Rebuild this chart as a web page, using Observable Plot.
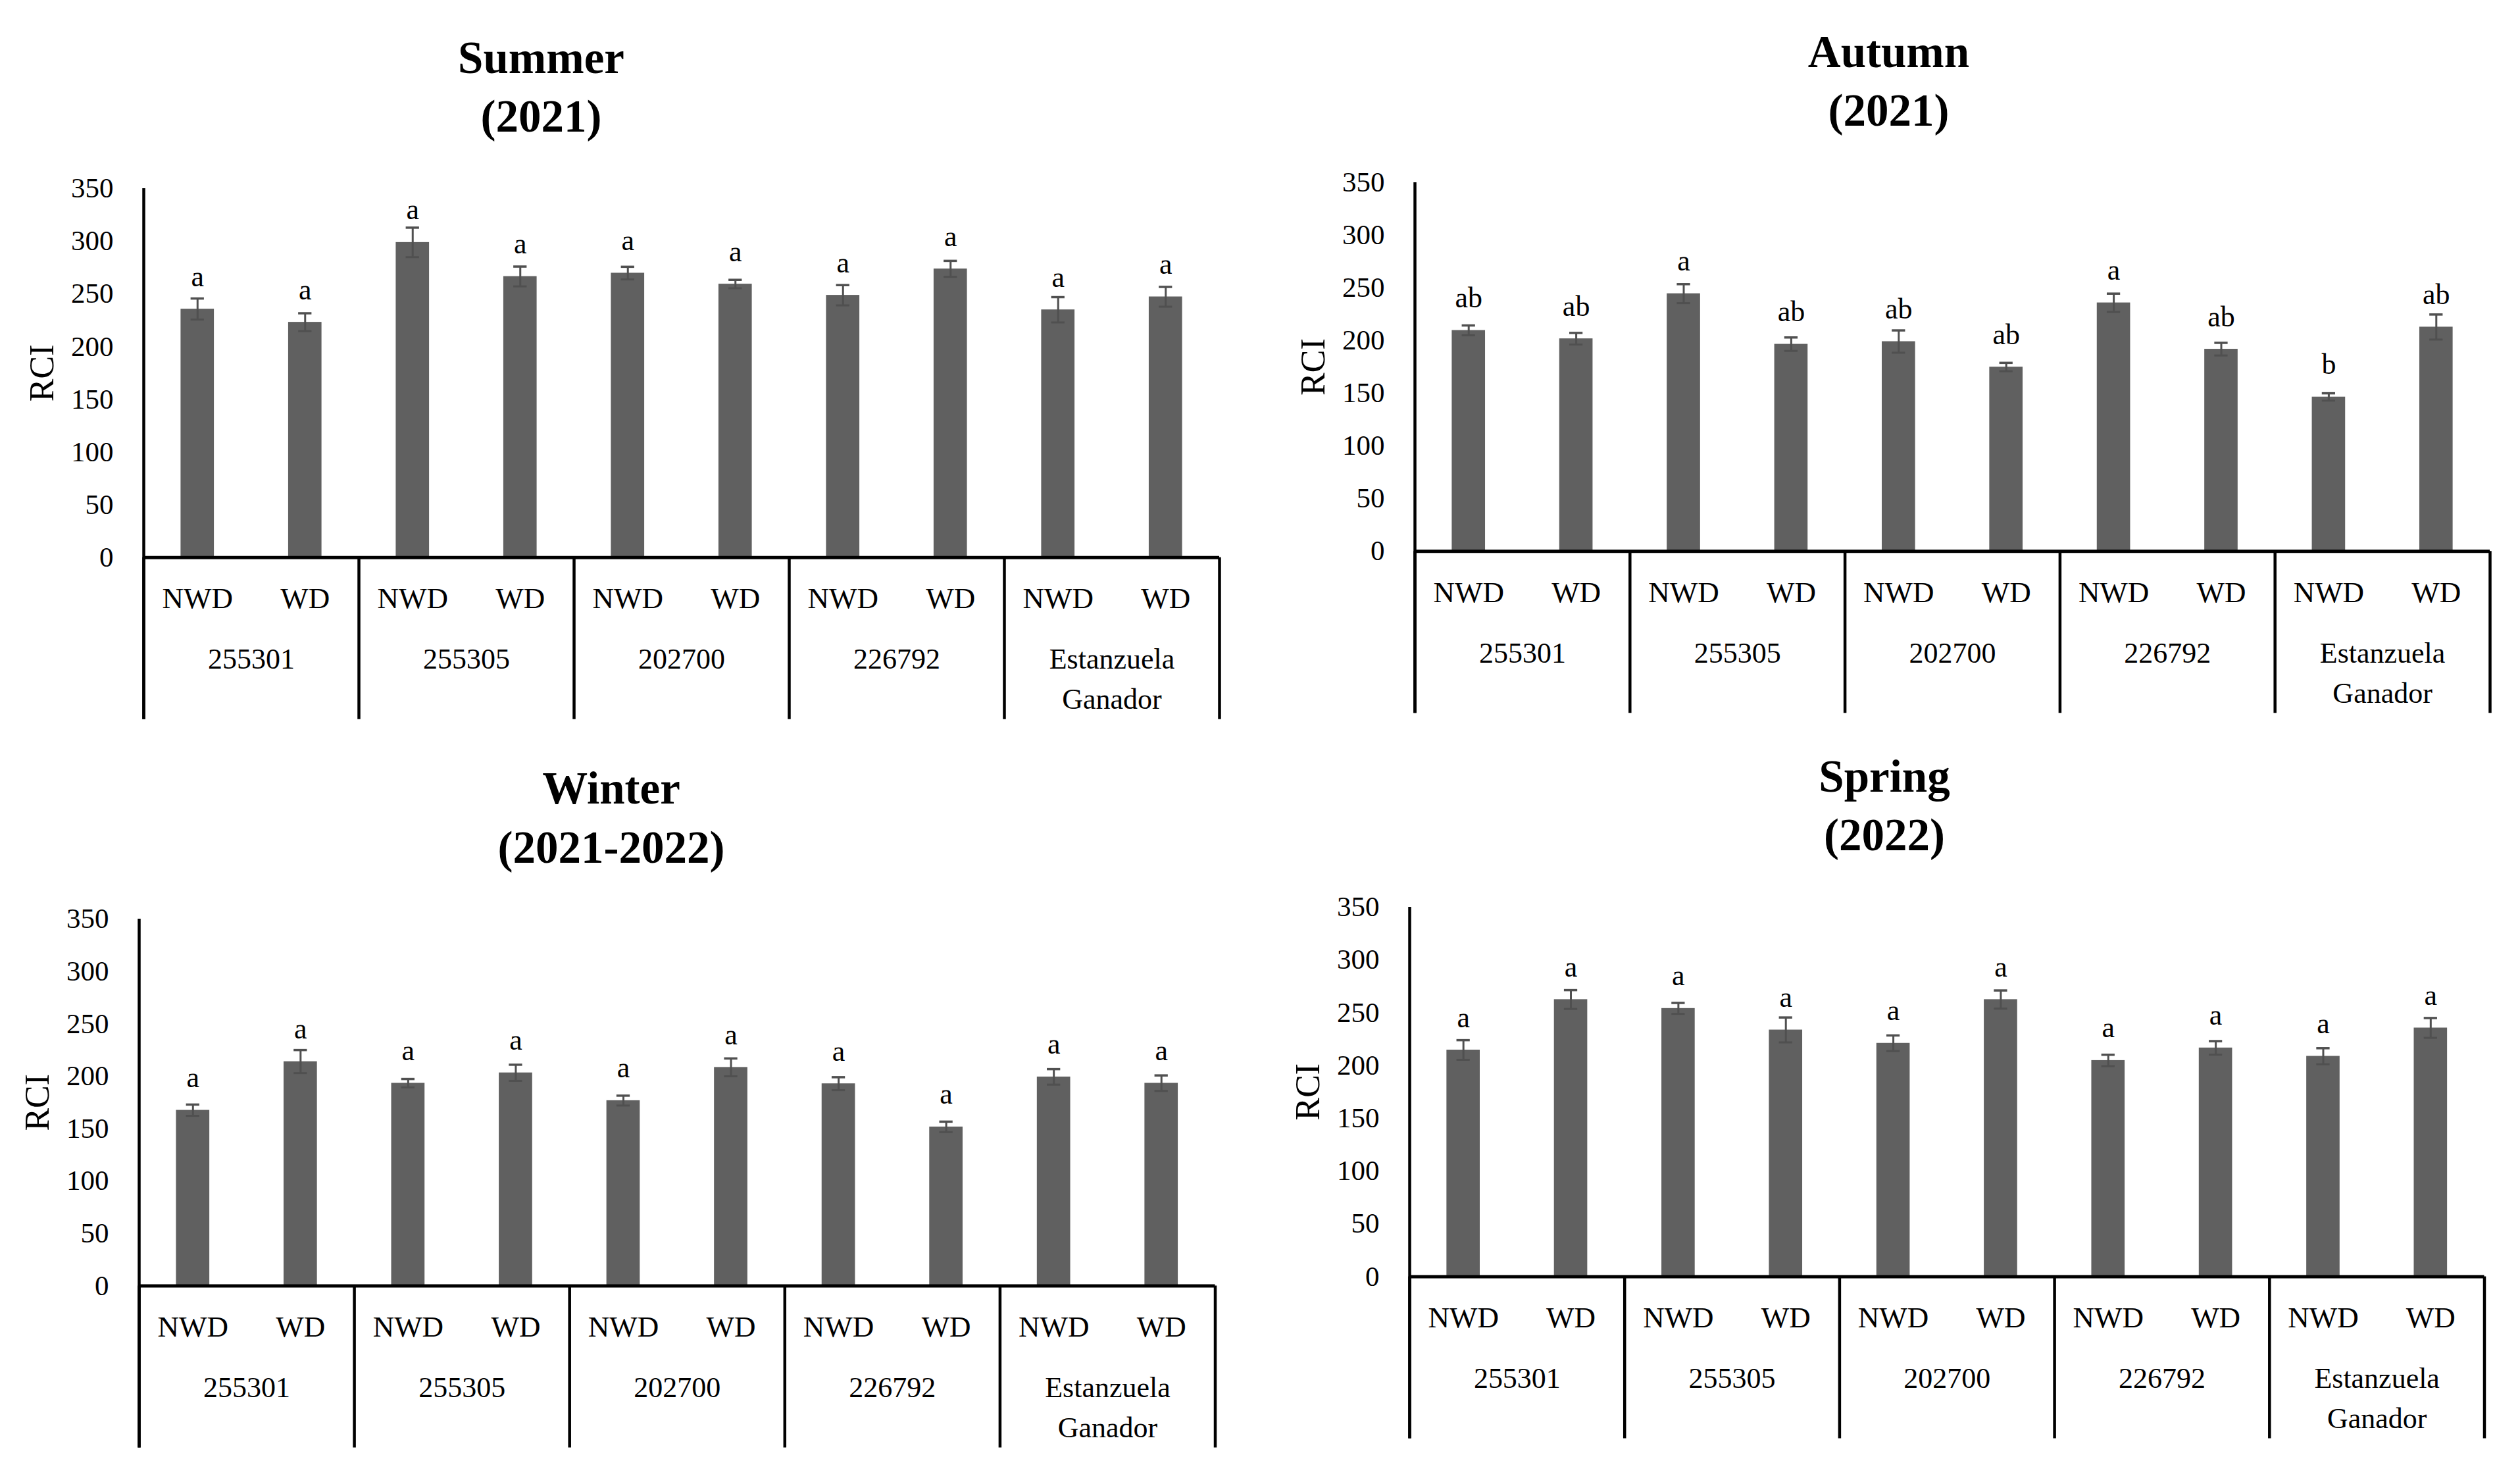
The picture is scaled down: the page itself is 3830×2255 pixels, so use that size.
<!DOCTYPE html>
<html><head><meta charset="utf-8">
<script src="https://cdn.jsdelivr.net/npm/d3@7"></script>
<script src="https://cdn.jsdelivr.net/npm/@observablehq/plot@0.6"></script>
<style>
html,body{margin:0;padding:0;background:#fff;}
#root{position:relative;width:3830px;height:2255px;overflow:hidden;background:#fff;}
#root svg{position:absolute;}
</style></head><body><div id="root"></div>
<script>
// ---- data ----
const groups = ["255301", "255305", "202700", "226792", "Estanzuela\nGanador"];
const treatments = ["NWD", "WD"];
const yTicks = [0, 50, 100, 150, 200, 250, 300, 350];

const summerTitle = "Summer\n(2021)";
const summerRCI = [235.7, 223.2, 298.9, 266.6, 269.8, 259.4, 248.8, 273.8, 235.0, 247.3];
const summerSE  = [10.0, 8.5, 14.0, 9.4, 6.0, 4.0, 9.6, 7.6, 12.0, 9.4];
const summerLetters = ["a", "a", "a", "a", "a", "a", "a", "a", "a", "a"];

const autumnTitle = "Autumn\n(2021)";
const autumnRCI = [209.7, 201.8, 244.6, 196.6, 199.1, 174.9, 235.9, 191.9, 146.5, 212.9];
const autumnSE  = [4.7, 5.5, 9.0, 6.4, 10.6, 4.0, 8.7, 6.0, 3.5, 11.9];
const autumnLetters = ["ab", "ab", "a", "ab", "ab", "ab", "a", "ab", "b", "ab"];

const winterTitle = "Winter\n(2021-2022)";
const winterRCI = [167.6, 214.0, 193.4, 203.3, 176.8, 208.5, 192.9, 151.7, 199.4, 193.4];
const winterSE  = [5.4, 11.0, 4.0, 7.7, 4.7, 8.5, 6.2, 5.0, 7.4, 7.4];
const winterLetters = ["a", "a", "a", "a", "a", "a", "a", "a", "a", "a"];

const springTitle = "Spring\n(2022)";
const springRCI = [214.7, 262.5, 254.1, 233.7, 221.1, 262.5, 204.8, 216.7, 208.8, 235.6];
const springSE  = [9.3, 8.9, 5.2, 11.8, 7.4, 8.6, 5.4, 6.4, 7.6, 9.4];
const springLetters = ["a", "a", "a", "a", "a", "a", "a", "a", "a", "a"];

// ---- layout (page pixel geometry of each panel) ----
const layouts = [
  {title: summerTitle, values: summerRCI, se: summerSE, letters: summerLetters, left: 218, right: 1853, y350: 285.6, y0: 846.3, titleCx: 822},
  {title: autumnTitle, values: autumnRCI, se: autumnSE, letters: autumnLetters, left: 2150, right: 3784, y350: 276.8, y0: 837.0, titleCx: 2870},
  {title: winterTitle, values: winterRCI, se: winterSE, letters: winterLetters, left: 210.5, right: 1846, y350: 1395.6, y0: 1953.1, titleCx: 928},
  {title: springTitle, values: springRCI, se: springSE, letters: springLetters, left: 2141.5, right: 3775, y350: 1377.6, y0: 1939.0, titleCx: 2863}
];

const FONT = "'Liberation Serif','Times New Roman',serif";
const BAR = 0.31;       // bar width as fraction of category
const CAP = 0.062;      // half width of error cap (category units)
const TABLE_DEPTH = 246; // px below axis
const root = document.getElementById("root");

function panel(p) {
  const mL = 200, mR = 40, mT = 260, mB = 262;
  const plotH = p.y0 - p.y350;
  const width = p.right - p.left + mL + mR;
  const height = plotH + mT + mB;
  const below = -TABLE_DEPTH * 350 / plotH;
  const rows = p.values.map((v, i) => ({
    i, v, se: p.se[i], letter: p.letters[i],
    treatment: treatments[i % 2], group: groups[Math.floor(i / 2)]
  }));
  const groupRows = groups.map((g, k) => ({g, k}));
  const seps = groups.map((g, k) => 2 * k).concat([2 * groups.length]);
  const cx = d => d.i + 0.5;

  const svg = Plot.plot({
    width, height,
    marginLeft: mL, marginRight: mR, marginTop: mT, marginBottom: mB,
    x: {domain: [0, 2 * groups.length], axis: null},
    y: {domain: [0, 350]},
    style: {fontFamily: FONT, fontSize: "43px", color: "#000", background: "transparent", overflow: "visible", maxWidth: "none"},
    marks: [
      Plot.axisY({ticks: yTicks, tickSize: 0, tickPadding: 46, label: null, fontSize: 43}),
      Plot.rect(rows, {x1: d => cx(d) - BAR / 2, x2: d => cx(d) + BAR / 2, y1: 0, y2: "v", fill: "#606060"}),
      Plot.ruleX(rows, {x: cx, y1: d => d.v - d.se, y2: d => d.v + d.se, stroke: "#505050", strokeWidth: 3}),
      Plot.ruleY(rows, {y: d => d.v + d.se, x1: d => cx(d) - CAP, x2: d => cx(d) + CAP, stroke: "#505050", strokeWidth: 3.5}),
      Plot.ruleY(rows, {y: d => d.v - d.se, x1: d => cx(d) - CAP, x2: d => cx(d) + CAP, stroke: "#505050", strokeWidth: 3}),
      Plot.text(rows, {x: cx, y: "v", text: "letter", dy: -35, lineAnchor: "bottom", fontSize: 44}),
      // category table
      Plot.ruleY([0], {x1: 0, x2: 2 * groups.length, stroke: "#000", strokeWidth: 5}),
      Plot.ruleX(seps, {x: d => d, y1: below, y2: 0, stroke: "#000", strokeWidth: 4.5}),
      Plot.ruleX([0], {x: d => d, y1: below, y2: 350, stroke: "#000", strokeWidth: 4.5}),
      Plot.text(rows, {x: cx, y: 0, text: "treatment", dy: 77, lineAnchor: "bottom", fontSize: 45}),
      Plot.text(groupRows, {x: d => 2 * d.k + 1, y: 0, text: "g", dy: 125.7, lineAnchor: "top", lineHeight: 61 / 44, fontSize: 44}),
      // axis title
      Plot.text(["RCI"], {frameAnchor: "left", textAnchor: "middle", text: d => d, dx: -154, rotate: -90, fontSize: 52}),
      // chart title
      Plot.text([p.title], {frameAnchor: "top", textAnchor: "middle", text: d => d, dx: p.titleCx - (p.left + p.right) / 2, dy: -86,
        lineAnchor: "bottom", lineHeight: 90 / 69, fontSize: 69, fontWeight: "bold"})
    ]
  });
  svg.style.left = (p.left - mL) + "px";
  svg.style.top = (p.y350 - mT) + "px";
  root.appendChild(svg);
}
layouts.forEach(panel);
</script></body></html>
